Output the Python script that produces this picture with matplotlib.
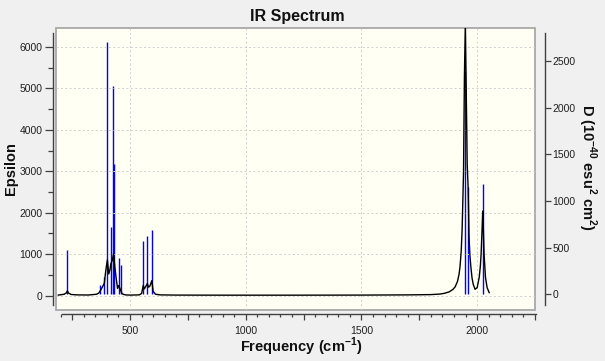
import matplotlib
matplotlib.use("Agg")
import matplotlib.pyplot as plt
from matplotlib.ticker import MultipleLocator, FuncFormatter

plt.rcParams['axes.grid'] = False
plt.rcParams['font.family'] = ['Liberation Sans', 'DejaVu Sans']
plt.rcParams['mathtext.fontset'] = 'custom'
plt.rcParams['mathtext.rm'] = 'Liberation Sans'
plt.rcParams['mathtext.bf'] = 'Liberation Sans:bold'

# broadened spectrum (left axis, epsilon)
curve_freq = [190, 215, 224, 229, 234, 245, 270, 320, 355, 365, 372, 380, 389, 395,
              402, 408, 413, 417, 423, 429, 434, 440, 446, 451, 455, 459, 464, 470,
              480, 500, 540, 550, 557, 562, 568, 575, 580, 586, 594, 600, 610, 630,
              700, 900, 1200, 1500, 1700, 1800, 1840, 1860, 1880, 1896, 1905, 1915,
              1922, 1926, 1931, 1935, 1941, 1945, 1949, 1954, 1957, 1961, 1965, 1969,
              1973, 1978, 1983, 1991, 2000, 2009, 2014, 2017, 2021, 2024, 2027, 2030,
              2036, 2043, 2052]
curve_eps = [10, 30, 60, 110, 60, 25, 15, 12, 30, 60, 120, 200, 300, 600,
             860, 520, 620, 760, 850, 1010, 700, 420, 170, 240, 190, 130, 60, 30,
             15, 10, 15, 50, 240, 160, 220, 290, 200, 230, 360, 100, 30, 15,
             10, 8, 8, 10, 15, 22, 35, 55, 90, 150, 210, 340,
             520, 700, 1060, 1580, 2930, 5300, 6600, 4460, 3170, 2610, 1400, 950,
             680, 420, 270, 150, 190, 440, 720, 990, 1550, 2040, 1550, 990,
             440, 190, 70]

# stick spectrum (right axis, D)
stick_freq = [229, 370, 389, 402, 416, 425, 432, 454, 462, 557, 575, 594, 1949, 1960, 2024]
stick_d = [475, 100, 189, 2701, 725, 2236, 1397, 386, 314, 574, 628, 689, 2397, 1150, 1182]

freq_labels = [500, 1000, 1500, 2000]
eps_ticks = [0, 1000, 2000, 3000, 4000, 5000, 6000]

W, H = 605, 361
fig = plt.figure(figsize=(W / 100, H / 100), dpi=100)
fig.patch.set_facecolor('#f0f0f0')

l, r, t, b = 56, 535, 28, 310
ax = fig.add_axes([l / W, 1 - b / H, (r - l) / W, (b - t) / H])
ax2 = ax.twinx()

# black curve on top of the blue sticks
ax.set_zorder(2)
ax2.set_zorder(1)
ax.patch.set_visible(False)
ax2.patch.set_visible(True)
ax2.patch.set_facecolor('#fffff4')
ax2.patch.set_edgecolor('#a8a8a8')
ax2.patch.set_linewidth(1.3)

# dotted grid
grid_kw = dict(color='#cfcfcf', linewidth=0.7, linestyle=(0, (2, 2.5)), zorder=0)
for f in freq_labels:
    ax.axvline(f, **grid_kw)
for e in eps_ticks:
    ax.axhline(e, **grid_kw)

ax2.vlines(stick_freq, 0, stick_d, color='#0000ff', linewidth=1.0)
ax.plot(curve_freq, curve_eps, color='black', linewidth=1.0)

ax.set_xlim(180, 2250)
ax.set_ylim(-350, 6460)
ax2.set_ylim(-168, 2855)

# spines
for s in ['top', 'right']:
    ax.spines[s].set_visible(False)
for s in ['top', 'left', 'bottom']:
    ax2.spines[s].set_visible(False)
spine_col = '#404040'
ax.spines['left'].set_position(('outward', 2))
ax.spines['bottom'].set_position(('outward', 3))
ax2.spines['right'].set_position(('outward', 7))
ax.spines['left'].set_bounds(-230, 6340)
ax.spines['bottom'].set_bounds(205, 2255)
ax2.spines['right'].set_bounds(-115, 2800)
for sp in [ax.spines['left'], ax.spines['bottom'], ax2.spines['right']]:
    sp.set_color(spine_col)
    sp.set_linewidth(1.0)

# ticks
ax.xaxis.set_major_locator(MultipleLocator(250))
ax.xaxis.set_minor_locator(MultipleLocator(50))
ax.xaxis.set_major_formatter(FuncFormatter(lambda v, p: f'{int(v)}' if int(v) in freq_labels else ''))
ax.set_yticks(eps_ticks)
ax.yaxis.set_minor_locator(MultipleLocator(500))
ax2.yaxis.set_major_locator(MultipleLocator(500))

ax.tick_params(axis='x', which='major', length=4.5, width=0.9, color=spine_col,
               labelsize=7.5, labelcolor='#202020', pad=4)
ax.tick_params(axis='x', which='minor', length=2.5, width=0.9, color=spine_col)
ax.tick_params(axis='y', which='major', length=6, width=0.9, color=spine_col,
               labelsize=7.5, labelcolor='#202020', pad=1.5)
ax.tick_params(axis='y', which='minor', length=3.5, width=0.9, color=spine_col)
ax2.tick_params(axis='y', which='major', length=4, width=0.9, color=spine_col,
                labelsize=7.5, labelcolor='#202020', pad=1.5)

# labels
fig.text(297 / W, 1 - 16 / H, 'IR Spectrum', ha='center', va='center',
         fontsize=11.5, fontweight='bold', color='#101010')
ax.set_ylabel('Epsilon', fontsize=10.5, fontweight='bold', color='#101010')
ax.yaxis.label.set_va('center')
ax.yaxis.set_label_coords((11 - l) / (r - l), 0.5)
ax.set_xlabel(r'Frequency (cm$^{\mathbf{-1}}$)', fontsize=10.5, fontweight='bold', color='#101010')
ax.xaxis.label.set_va('center')
ax.xaxis.set_label_coords((301 - l) / (r - l), (b - 347) / (b - t))
ax2.set_ylabel(r'D (10$^{\mathbf{-40}}$ esu$^{\mathbf{2}}$ cm$^{\mathbf{2}}$)', fontsize=10.5,
               fontweight='bold', color='#101010', rotation=-90)
ax2.yaxis.label.set_va('center')
ax2.yaxis.set_label_coords((587 - l) / (r - l), (b - 167) / (b - t))

fig.savefig('out.png', dpi=100, facecolor=fig.get_facecolor())
